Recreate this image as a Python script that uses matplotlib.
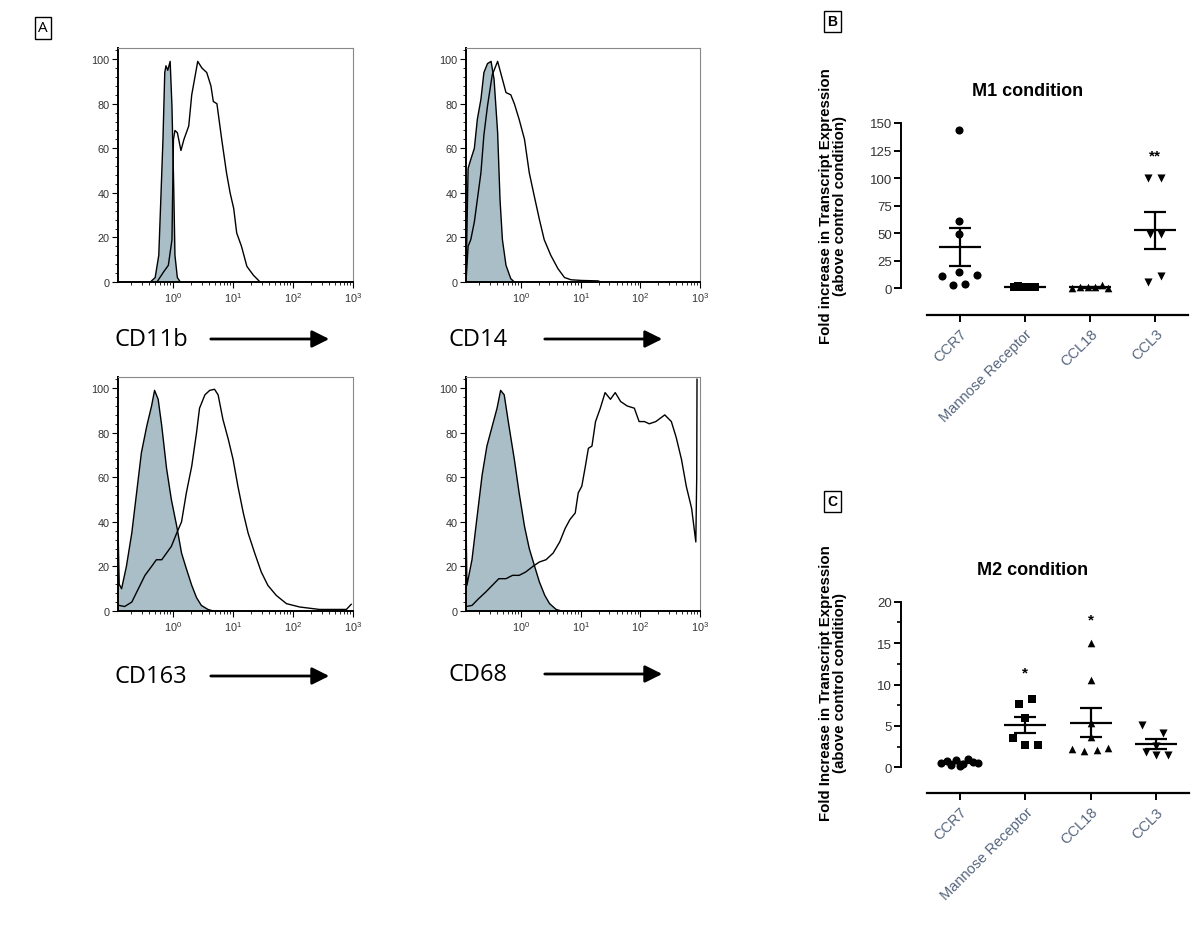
import numpy as np
import matplotlib.pyplot as plt
from matplotlib.patches import FancyArrowPatch
from matplotlib.ticker import MultipleLocator, LogLocator, NullFormatter, FixedLocator

plt.rcParams['font.family'] = ['Liberation Sans', 'DejaVu Sans']

W, H = 1200, 929

# --- Panel A: flow cytometry histograms (x = log10 intensity, y = % of max) ---
cd11b_iso_x = [-0.38, -0.30, -0.24, -0.21, -0.17, -0.14, -0.12, -0.09, -0.05, -0.02, 0.01, 0.03, 0.07, 0.12]
cd11b_iso_y = [0, 2, 12, 34, 64, 94, 97, 95, 99, 79, 42, 12, 2, 0]
cd11b_pos_x = [-0.27, -0.16, -0.08, -0.02, 0.005, 0.03, 0.07, 0.13, 0.18, 0.26, 0.31, 0.37, 0.41,
               0.48, 0.56, 0.63, 0.67, 0.73, 0.81, 0.89, 0.95, 1.01, 1.06, 1.14, 1.23, 1.34, 1.45]
cd11b_pos_y = [0, 4.5, 7.5, 19, 64, 68, 67, 59, 64, 70, 84, 93, 99,
               96, 94, 88, 81, 80, 64, 49, 40, 33, 22, 16, 7, 3, 0]

cd14_iso_x = [-0.92, -0.885, -0.84, -0.78, -0.73, -0.67, -0.62, -0.56, -0.50, -0.45, -0.39, -0.35, -0.31, -0.25, -0.17, -0.11]
cd14_iso_y = [0, 51, 55, 60, 73, 82, 94, 98, 99, 91, 67, 37, 19, 7.5, 1.5, 0]
cd14_pos_x = [-0.92, -0.885, -0.84, -0.78, -0.73, -0.67, -0.62, -0.56, -0.48, -0.39, -0.34, -0.25, -0.17, -0.11,
              -0.03, 0.06, 0.14, 0.22, 0.31, 0.39, 0.50, 0.62, 0.73, 0.84, 1.01, 1.29, 1.34]
cd14_pos_y = [0, 16, 19, 27, 37, 49, 66, 79, 93, 99, 94, 85, 84, 80,
              73, 64, 49, 39, 28, 19, 12, 6, 2, 1, 0.7, 0.5, 0]

cd163_iso_x = [-0.92, -0.915, -0.90, -0.86, -0.78, -0.69, -0.61, -0.53, -0.44, -0.36, -0.31, -0.25, -0.19,
               -0.11, -0.03, 0.06, 0.14, 0.22, 0.31, 0.39, 0.47, 0.58, 0.67]
cd163_iso_y = [0, 31, 12, 10, 20, 35, 53, 71, 83, 92, 99, 95, 83,
               64, 50, 38, 26, 19, 11.5, 6, 2.5, 0.7, 0]
cd163_pos_x = [-0.90, -0.81, -0.69, -0.58, -0.47, -0.36, -0.28, -0.19, -0.11, -0.03, 0.06, 0.14, 0.22, 0.31,
               0.39, 0.44, 0.53, 0.61, 0.69, 0.75, 0.83, 0.92, 1.00, 1.08, 1.17, 1.25, 1.36, 1.47, 1.58,
               1.72, 1.89, 2.11, 2.44, 2.89, 2.97]
cd163_pos_y = [2.5, 2, 4, 10, 16, 20, 23, 23, 26, 29, 35, 40, 53, 65,
               80, 91, 97, 99, 99.5, 97, 86, 77, 68, 56, 44, 35, 26, 17.5, 11.5,
               7, 3.3, 1.8, 0.7, 0.7, 3]

cd68_iso_x = [-0.92, -0.915, -0.905, -0.82, -0.74, -0.65, -0.57, -0.48, -0.40, -0.34, -0.28, -0.20, -0.11,
              -0.03, 0.06, 0.14, 0.23, 0.31, 0.40, 0.48, 0.59, 0.68]
cd68_iso_y = [0, 32, 11.5, 23, 41, 61, 74, 83, 91, 99, 97, 83, 68,
              53, 38, 28, 20, 13, 7, 3.3, 0.7, 0]
cd68_pos_x = [-0.92, -0.82, -0.71, -0.59, -0.48, -0.37, -0.25, -0.14, -0.03, 0.08, 0.20, 0.31, 0.42, 0.54,
              0.65, 0.74, 0.82, 0.91, 0.96, 1.02, 1.08, 1.13, 1.19, 1.25, 1.33, 1.41, 1.50, 1.58, 1.67,
              1.78, 1.90, 1.98, 2.07, 2.15, 2.26, 2.41, 2.52, 2.60, 2.69, 2.77, 2.86, 2.93, 2.945, 2.95]
cd68_pos_y = [2, 2.5, 5.5, 8.5, 11.5, 14.5, 14.5, 16, 16, 17.5, 20, 22, 23, 26,
              31, 37, 41, 44, 53, 56, 65, 73, 74, 85, 91, 98, 95, 98, 94,
              92, 91, 85, 85, 84, 85, 88, 85, 78, 68, 56, 46, 31, 60, 104]

# --- Panels B and C: qPCR fold change ---
genes = ['CCR7', 'Mannose Receptor', 'CCL18', 'CCL3']

m1_ccr7 = [143.6, 60.5, 49.3, 14.5, 10.9, 12.1, 3.0, 3.9]
m1_ccr7_off = [-0.015, -0.01, -0.01, -0.01, -0.27, 0.26, -0.10, 0.09]
m1_mr = [0.5, 1.5, 1.0, 0.8, 1.2, 0.6, 1.0]
m1_mr_off = [-0.16, -0.10, -0.05, 0.0, 0.05, 0.10, 0.16]
m1_ccl18 = [0.4, 0.5, 0.5, 0.6, 2.8, 0.3]
m1_ccl18_off = [-0.28, -0.15, -0.03, 0.08, 0.18, 0.28]
m1_ccl3 = [100.1, 100.1, 49.3, 49.3, 5.4, 10.9]
m1_ccl3_off = [-0.11, 0.09, -0.09, 0.09, -0.11, 0.09]

m2_ccr7 = [0.5, 0.8, 0.3, 0.9, 0.2, 0.4, 1.0, 0.7, 0.5]
m2_ccr7_off = [-0.28, -0.20, -0.13, -0.05, 0.0, 0.05, 0.13, 0.20, 0.28]
m2_mr = [7.6, 8.2, 5.9, 3.5, 2.7, 2.7]
m2_mr_off = [-0.09, 0.10, 0.0, -0.18, 0.0, 0.19]
m2_ccl18 = [15.0, 10.5, 5.4, 3.7, 2.2, 2.0, 2.1, 2.3]
m2_ccl18_off = [0.0, 0.0, 0.0, 0.0, -0.28, -0.10, 0.10, 0.26]
m2_ccl3 = [5.1, 4.1, 2.6, 1.9, 1.5, 1.5]
m2_ccl3_off = [-0.21, 0.10, 0.0, -0.16, 0.0, 0.18]

m1_stars = {3: ('**', 124)}
m2_stars = {1: ('*', 12.0), 2: ('*', 18.4)}

fill_col = '#a9bec6'
tick_col = '#333333'
cat_col = '#55657d'


def rect(l, t, r, b):
    return [l / W, 1 - b / H, (r - l) / W, (b - t) / H]


def fx(x):
    return x / W


def fy(y):
    return 1 - y / H


fig = plt.figure(figsize=(12, 9.29), dpi=100)


def hist_panel(box, iso_x, iso_y, pos_x, pos_y, name, label_y, label_x, arrow_x):
    ax = fig.add_axes(rect(*box))
    ix = 10 ** np.array(iso_x)
    px = 10 ** np.array(pos_x)
    ax.fill_between(ix, iso_y, 0, facecolor=fill_col, lw=0)
    ax.plot(ix, iso_y, color='k', lw=1)
    ax.plot(px, pos_y, color='k', lw=1)
    ax.set_xscale('log')
    ax.set_xlim(10 ** -0.92, 1e3)
    ax.set_ylim(0, 105)
    ax.set_xticks([1, 10, 100, 1000])
    ax.xaxis.set_minor_locator(LogLocator(base=10, subs=np.arange(2, 10)))
    ax.xaxis.set_minor_formatter(NullFormatter())
    ax.set_yticks([0, 20, 40, 60, 80, 100])
    ax.yaxis.set_minor_locator(MultipleLocator(4))
    ax.tick_params(labelsize=7.8, colors='k', labelcolor=tick_col, length=4, width=0.8, pad=2)
    ax.tick_params(which='minor', length=2, width=0.6)
    for s in ['left', 'bottom']:
        ax.spines[s].set_linewidth(1.4)
    for s in ['top', 'right']:
        ax.spines[s].set_color('#888888')
        ax.spines[s].set_linewidth(0.8)
    fig.text(fx(label_x), fy(label_y), name, family=['Open Sans', 'DejaVu Sans'],
             fontsize=17, ha='left', va='center')
    arr = FancyArrowPatch((fx(arrow_x[0]), fy(label_y)), (fx(arrow_x[1]), fy(label_y)),
                          transform=fig.transFigure, arrowstyle='-|>', mutation_scale=26,
                          lw=2, color='k')
    fig.add_artist(arr)
    return ax


hist_panel((118, 49, 353, 283), cd11b_iso_x, cd11b_iso_y, cd11b_pos_x, cd11b_pos_y,
           'CD11b', 340, 114, (208, 332))
hist_panel((466, 49, 700, 283), cd14_iso_x, cd14_iso_y, cd14_pos_x, cd14_pos_y,
           'CD14', 340, 448, (542, 665))
hist_panel((118, 378, 353, 612), cd163_iso_x, cd163_iso_y, cd163_pos_x, cd163_pos_y,
           'CD163', 677, 114, (208, 332))
hist_panel((466, 378, 700, 612), cd68_iso_x, cd68_iso_y, cd68_pos_x, cd68_pos_y,
           'CD68', 675, 448, (542, 665))


def dot_panel(box, ylo, ytop, ystep, yminor, groups, stars, title, title_xy, ylabel, ylabel_xy):
    ax = fig.add_axes(rect(*box))
    markers = ['o', 's', '^', 'v']
    sizes = [34, 26, 30, 34]
    for i, (vals, offs) in enumerate(groups):
        vals = np.array(vals)
        ax.scatter(i + np.array(offs), vals, marker=markers[i], s=sizes[i], color='k',
                   lw=0, clip_on=False, zorder=3)
        mean = vals.mean()
        sem = vals.std(ddof=1) / np.sqrt(len(vals))
        ax.hlines(mean, i - 0.32, i + 0.32, color='k', lw=1.6)
        ax.vlines(i, mean - sem, mean + sem, color='k', lw=1.6)
        ax.hlines([mean - sem, mean + sem], i - 0.17, i + 0.17, color='k', lw=1.6)
    for i, (txt, y) in stars.items():
        ax.annotate(txt, (i, y), xytext=(0, -5.8), textcoords='offset points',
                    ha='center', va='baseline', fontsize=11, fontweight='bold')
    ax.set_xlim(-0.5, 3.5)
    ax.set_ylim(ylo, ytop)
    ax.set_xticks(range(len(genes)))
    ax.set_xticklabels(genes, rotation=45, ha='right', rotation_mode='anchor',
                       fontsize=10.5, color=cat_col)
    ax.set_yticks(np.arange(0, ytop + 0.01, ystep))
    if yminor:
        ax.yaxis.set_minor_locator(FixedLocator(np.arange(yminor, ytop, ystep)))
    ax.tick_params(axis='y', labelsize=9.5, labelcolor=tick_col, length=5, width=1.4, pad=1)
    ax.tick_params(axis='y', which='minor', length=3, width=1.2)
    ax.tick_params(axis='x', length=5, width=1.4, pad=3)
    ax.spines['top'].set_visible(False)
    ax.spines['right'].set_visible(False)
    ax.spines['left'].set_position(('outward', 19))
    ax.spines['left'].set_bounds(0, ytop)
    ax.spines['left'].set_linewidth(1.4)
    ax.spines['bottom'].set_linewidth(1.6)
    fig.text(fx(title_xy[0]), fy(title_xy[1]), title, fontsize=13, fontweight='bold',
             ha='center', va='center')
    fig.text(fx(ylabel_xy[0]), fy(ylabel_xy[1]), ylabel, fontsize=10.8, fontweight='bold',
             rotation=90, ha='center', va='center', multialignment='center', linespacing=1.05)
    return ax


dot_panel((927, 124, 1188, 316), -24.5, 150, 25, None,
          [(m1_ccr7, m1_ccr7_off), (m1_mr, m1_mr_off), (m1_ccl18, m1_ccl18_off), (m1_ccl3, m1_ccl3_off)],
          m1_stars, 'M1 condition', (1028, 92),
          'Fold increase in Transcript Expression\n(above control condition)', (833, 206))
dot_panel((927, 602.7, 1189, 794.3), -3.14, 20, 5, 2.5,
          [(m2_ccr7, m2_ccr7_off), (m2_mr, m2_mr_off), (m2_ccl18, m2_ccl18_off), (m2_ccl3, m2_ccl3_off)],
          m2_stars, 'M2 condition', (1033, 571),
          'Fold Increase in Transcript Expression\n(above control condition)', (833, 683))

# panel letters
fig.text(fx(43), fy(29), 'A', family=['Open Sans', 'DejaVu Sans'], fontsize=11, ha='center', va='center',
         bbox=dict(boxstyle='square,pad=0.2', facecolor='white', edgecolor='k', lw=1))
fig.text(fx(832.5), fy(22.5), 'B', fontsize=10, fontweight='bold', ha='center', va='center',
         bbox=dict(boxstyle='square,pad=0.25', facecolor='white', edgecolor='k', lw=1))
fig.text(fx(832.5), fy(502.5), 'C', fontsize=10, fontweight='bold', ha='center', va='center',
         bbox=dict(boxstyle='square,pad=0.25', facecolor='white', edgecolor='k', lw=1))

fig.savefig('out.png', dpi=100)
